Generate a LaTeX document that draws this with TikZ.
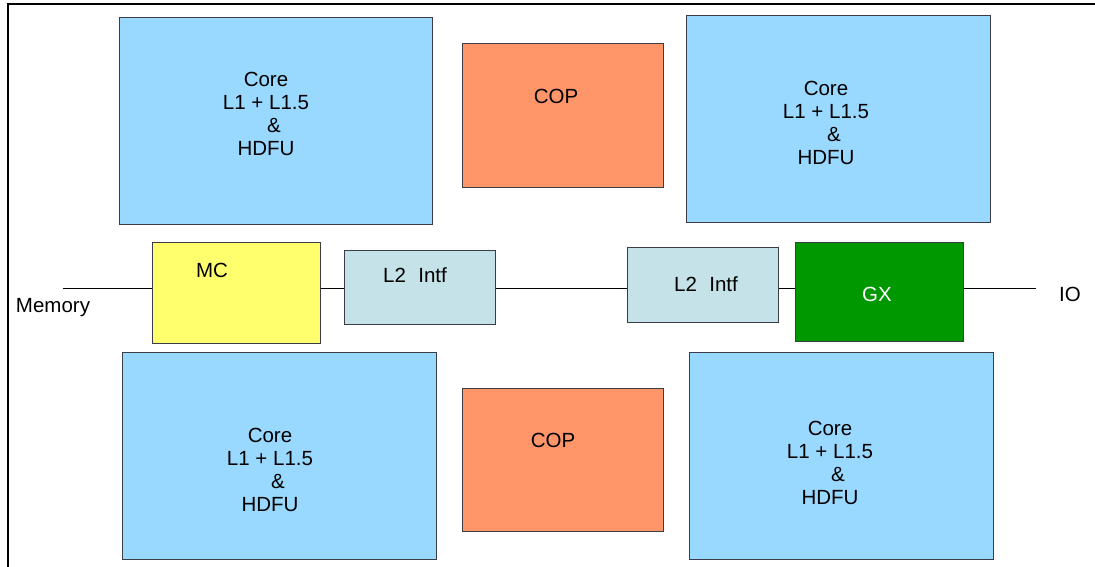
\documentclass[tikz,border=0pt]{standalone}
\usepackage{fontspec}
\setmainfont{Liberation Sans}
\usetikzlibrary{positioning}
\definecolor{coreBlue}{RGB}{153,216,255}
\definecolor{copOrange}{RGB}{255,150,105}
\definecolor{mcYellow}{RGB}{255,255,110}
\definecolor{intfCyan}{RGB}{196,226,232}
\definecolor{gxGreen}{RGB}{0,152,0}
\definecolor{edgeGray}{RGB}{60,60,70}
\tikzset{
    base/.style={font=\fontsize{20.5}{23}\selectfont, align=center, inner sep=0pt},
    block/.style={rectangle, draw=edgeGray, line width=1pt, inner sep=0pt},
    core/.style={block, fill=coreBlue, minimum width=310pt, minimum height=207pt},
    cop/.style={block, fill=copOrange, minimum width=201pt, minimum height=144pt},
    mc/.style={block, fill=mcYellow, minimum width=168pt, minimum height=101pt},
    intf/.style={block, fill=intfCyan, minimum width=151pt, minimum height=74pt},
    gx/.style={block, fill=gxGreen, minimum width=168pt, minimum height=99pt},
    label/.style={base, text=black},
    bus/.style={line width=0.8pt, color=black}
}
\begin{document}
\begin{tikzpicture}[x=1pt, y=-1pt]
  \useasboundingbox (0,0) rectangle (1095,567);
  % frame
  \draw[line width=1.2pt] (8,567) -- (8,4) -- (1095,4);

  % cores and coprocessors
  \node[core, minimum width=313pt] (coreA) at (275.5,121) {};
  \node[cop] (copA) at (562.5,115.5) {};
  \node[core, minimum width=304pt] (coreB) at (838,119) {};
  \node[core, minimum width=314pt] (coreC) at (279,456) {};
  \node[cop, minimum height=143pt] (copB) at (562.5,459.5) {};
  \node[core, minimum width=304pt] (coreD) at (841,456) {};

  % middle row
  \node[mc] (mc) at (236,292.5) {};
  \node[intf] (intfA) at (419.5,287) {};
  \node[intf, minimum height=75pt] (intfB) at (702.5,284.5) {};
  \node[gx] (gx) at (879,291.5) {};
  \coordinate (memEnd) at (63,288);
  \coordinate (ioEnd) at (1036,288);

  \draw[bus] (memEnd) -- (memEnd -| mc.west);
  \draw[bus] (mc.east |- 0,288) -- (intfA.west |- 0,288);
  \draw[bus] (intfA.east |- 0,288) -- (intfB.west |- 0,288);
  \draw[bus] (intfB.east |- 0,288) -- (gx.west |- 0,288);
  \draw[bus] (gx.east |- 0,288) -- (ioEnd);

  % texts
  \node[label] (coreAtext) at (266,114) {Core\\L1 + L1.5\\\hspace*{16pt}\&\\HDFU};
  \node[label] (coreBtext) at (826,123) {Core\\L1 + L1.5\\\hspace*{16pt}\&\\HDFU};
  \node[label] (coreCtext) at (270,470) {Core\\L1 + L1.5\\\hspace*{16pt}\&\\HDFU};
  \node[label] (coreDtext) at (830,463) {Core\\L1 + L1.5\\\hspace*{16pt}\&\\HDFU};
  \node[label] (copAtext) at (556,96) {COP};
  \node[label] (copBtext) at (553,440) {COP};
  \node[label] (mctext) at (212,270) {MC};
  \node[label] (intfAtext) at (415,275) {L2\hspace{0.6em}Intf};
  \node[label] (intfBtext) at (706,284) {L2\hspace{0.6em}Intf};
  \node[label, text=white] (gxtext) at (877,294) {GX};
  \node[label] (memtext) at (53,308) {Memory};
  \node[label] (iotext) at (1070,294) {IO};
\end{tikzpicture}
\end{document}
